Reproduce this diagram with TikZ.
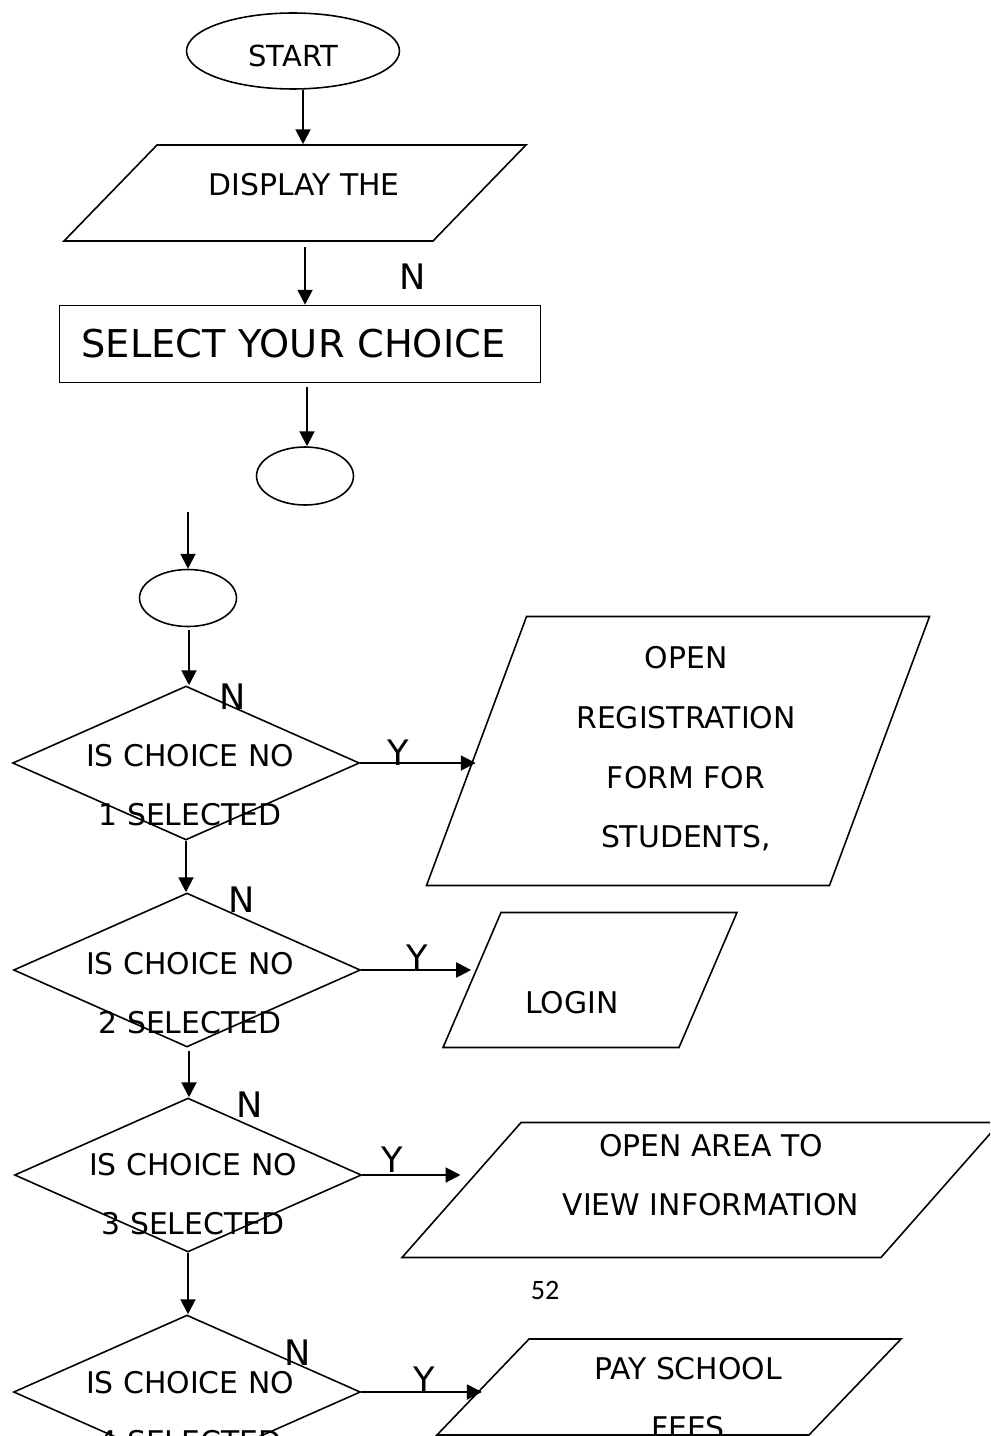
\documentclass[tikz,border=0pt]{standalone}
\usepackage{fontspec}
\setmainfont{DejaVu Sans}
\newfontfamily\pagenumfont{Carlito}
\usepackage{tikz}
\usetikzlibrary{arrows.meta, calc, positioning, shapes.geometric}
\tikzset{
    myarrow/.style={line width=1.2pt,-{Triangle[length=8.5pt,width=8.5pt]}},
    myterm/.style={draw,ellipse,line width=0.9pt,inner sep=0pt},
    mydec/.style={draw,diamond,line width=0.9pt,inner sep=0pt,minimum width=6.94cm,minimum height=3.08cm},
    myio/.style={draw,trapezium,line width=0.9pt,inner sep=0pt}
}

\begin{document}
\begin{tikzpicture}[x=0.02cm,y=-0.02cm]
\tikzset{
    mytext/.style={font=\fontsize{17}{34}\selectfont,align=center},
    mylabel/.style={font=\fontsize{20}{24}\selectfont}
}
  \useasboundingbox (0,0) rectangle (990,1436);
  \clip (0,0) rectangle (990,1436);
  \node[myterm,minimum width=4.26cm,minimum height=1.52cm,text height=17.6pt,text depth=0pt,font=\fontsize{16.5}{20}\selectfont] (start) at (293,51) {START};
  \node[myio,trapezium left angle=45.9,trapezium right angle=134.1,text width=5.52cm,text height=0.96cm,text depth=0.96cm] (disp) at (295,193) {};
  \node[mytext] (tdisp) at (304,185) {DISPLAY THE};
  \node[draw,line width=0.9pt,inner xsep=0.44cm,text width=8.74cm,align=left,minimum height=1.54cm,font=\fontsize{21.8}{26}\selectfont] (select) at (300,344) {SELECT YOUR CHOICE};
  \node[myterm,minimum width=1.94cm,minimum height=1.16cm] (e1) at (305,476) {};
  \node[myterm,minimum width=1.94cm,minimum height=1.14cm] (e2) at (188,598) {};
  \coordinate (c1) at (188,512);
  \node[mydec] (d1) at (186,763) {};
  \node[mydec] (d2) at (187,970) {};
  \node[mydec] (d3) at (188,1175) {};
  \node[mydec] (d4) at (187,1392) {};
  \node[mytext] (q1) at (190,785) {IS CHOICE NO\\1 SELECTED};
  \node[mytext] (q2) at (190,993) {IS CHOICE NO\\2 SELECTED};
  \node[mytext] (q3) at (193,1194) {IS CHOICE NO\\3 SELECTED};
  \node[mytext] (q4) at (190,1412) {IS CHOICE NO\\4 SELECTED};
  \node[myio,trapezium left angle=69.6,trapezium right angle=110.4,text width=6.06cm,text height=2.69cm,text depth=2.69cm] (reg) at (678,751) {};
  \node[mytext] (treg) at (686,749) {OPEN\\REGISTRATION\\FORM FOR\\STUDENTS,};
  \node[myio,trapezium left angle=66.75,trapezium right angle=113.25,text width=3.56cm,text height=1.35cm,text depth=1.35cm] (login) at (590,980) {};
  \node[mytext] (tlogin) at (572,1003) {LOGIN};
  \node[myio,trapezium left angle=48.6,trapezium right angle=131.4,text width=7.2cm,text height=1.35cm,text depth=1.35cm] (view) at (701,1190) {};
  \node[mytext] (tview) at (711,1175) {OPEN AREA TO\\VIEW INFORMATION};
  \node[myio,trapezium left angle=46.2,trapezium right angle=133.8,text width=5.6cm,text height=0.96cm,text depth=0.96cm] (pay) at (669,1387) {};
  \node[mytext] (tpay) at (688,1398) {PAY SCHOOL\\FEES};
  \node[mylabel] (n0) at (413,277) {N};
  \node[mylabel] (n1) at (233,697) {N};
  \node[mylabel] (n2) at (242,900) {N};
  \node[mylabel] (n3) at (250,1105) {N};
  \node[mylabel] (n4) at (298,1353) {N};
  \node[mylabel] (y1) at (398,753) {Y};
  \node[mylabel] (y2) at (417,958) {Y};
  \node[mylabel] (y3) at (392,1160) {Y};
  \node[mylabel] (y4) at (424,1380) {Y};
  \node[font=\pagenumfont\fontsize{16}{20}\selectfont] (page) at (545,1290) {52};
  \draw[myarrow] ($(start.south)+(10,0)$) coordinate (a1) -- (a1 |- disp.north);
  \draw[myarrow] ($(disp.south)+(10,5)$) coordinate (a2) -- (a2 |- select.north);
  \draw[myarrow] ($(select.south)+(7,4)$) coordinate (a3) -- (a3 |- e1.north);
  \draw[myarrow] (c1) -- (c1 |- e2.north);
  \draw[myarrow] ($(e2.south)+(1,3)$) coordinate (a4) -- (a4 |- d1.north);
  \draw[myarrow] (d1.south) -- (d1.south |- d2.north);
  \draw[myarrow] ($(d2.south)+(2,3)$) coordinate (a5) -- (a5 |- d3.north);
  \draw[myarrow] (d3.south) -- (d3.south |- d4.north);
  \draw[myarrow] (d1.east) -- (d1.east -| reg.west);
  \draw[myarrow] (d2.east) -- (d2.east -| login.west);
  \draw[myarrow] (d3.east) -- (d3.east -| view.west);
  \draw[myarrow] (d4.east) -- (d4.east -| pay.west);
\end{tikzpicture}
\end{document}
